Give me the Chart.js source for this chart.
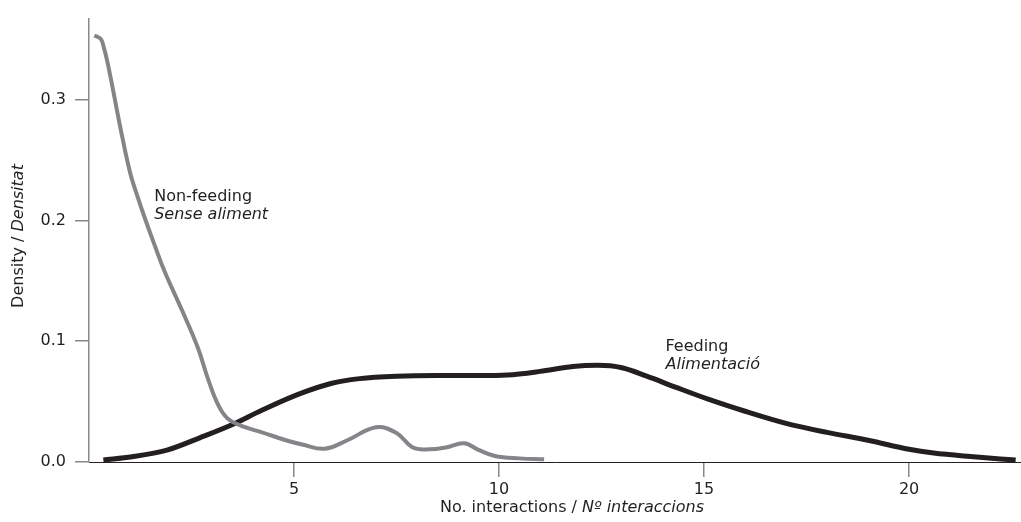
<!DOCTYPE html>
<html>
<head>
<meta charset="utf-8">
<script src="https://cdn.jsdelivr.net/npm/chart.js@4"></script>
<style>
  html, body { margin: 0; padding: 0; background: #fff; }
  #wrap { width: 1021px; height: 522px; }
</style>
</head>
<body>
<div id="wrap"><canvas id="densityChart" width="1021" height="522"></canvas></div>
<script>
// --- dados ---
const feedingX = [0.35, 1.05, 1.9, 2.7, 3.5, 4.2, 5.1, 5.9, 6.6, 7.5, 8.5, 9.5, 10.2, 11.0, 11.8, 12.4, 13.0, 13.6, 14.3, 15.1, 16.0, 17.0, 18.0, 19.0, 20.0, 20.6, 21.5, 22.6];
const feedingY = [0.0016, 0.0043, 0.0098, 0.020, 0.031, 0.0426, 0.056, 0.065, 0.069, 0.071, 0.0715, 0.0715, 0.072, 0.075, 0.079, 0.080, 0.078, 0.071, 0.062, 0.052, 0.042, 0.032, 0.0245, 0.018, 0.0105, 0.0074, 0.0045, 0.0016];

const nonFeedingX = [0.13, 0.29, 0.37, 0.45, 0.54, 0.62, 0.745, 0.83, 0.91, 1.03, 1.19, 1.35, 1.52, 1.84, 2.25, 2.65, 2.9, 3.14, 3.38, 3.79, 4.2, 4.8, 5.2, 5.75, 6.3, 7.0, 7.5, 7.9, 8.3, 8.7, 9.15, 9.5, 9.9, 10.5, 11.1];
const nonFeedingY = [0.353, 0.350, 0.342, 0.331, 0.316, 0.302, 0.280, 0.266, 0.253, 0.236, 0.219, 0.203, 0.187, 0.158, 0.127, 0.095, 0.069, 0.048, 0.036, 0.029, 0.0248, 0.018, 0.0145, 0.011, 0.018, 0.0287, 0.024, 0.012, 0.0105, 0.012, 0.0155, 0.010, 0.005, 0.003, 0.0022];

const xTicks = [5, 10, 15, 20];
const yTicks = [0, 0.1, 0.2, 0.3];

// rótulos das curvas (posição em unidades dos dados)
const curveLabels = [
    { x: 1.59, y: 0.2164, normal: 'Non-feeding', italic: 'Sense aliment' },
    { x: 14.06, y: 0.0918, normal: 'Feeding', italic: 'Alimentació' }
];

const FONT = "'DejaVu Sans', Verdana, sans-serif";
const TEXT = '#231f20';

function toPoints(xs, ys) {
    return xs.map((x, i) => ({ x: x, y: ys[i] }));
}

// escreve texto misto: parte normal + parte itálica
function mixedText(ctx, normal, italic, x, y, align) {
    ctx.font = '16px ' + FONT;
    const w1 = ctx.measureText(normal).width;
    ctx.font = 'italic 16px ' + FONT;
    const w2 = ctx.measureText(italic).width;
    let start = x;
    if (align === 'center') start = x - (w1 + w2) / 2;
    ctx.textAlign = 'left';
    ctx.font = '16px ' + FONT;
    ctx.fillText(normal, start, y);
    ctx.font = 'italic 16px ' + FONT;
    ctx.fillText(italic, start + w1, y);
}

const textPlugin = {
    id: 'textPlugin',
    afterDraw(chart) {
        const ctx = chart.ctx;
        const xs = chart.scales.x, ys = chart.scales.y;
        ctx.save();
        ctx.fillStyle = TEXT;
        ctx.textBaseline = 'middle';

        // título eixo x
        mixedText(ctx, 'No. interactions / ', 'Nº interaccions', 572, 508, 'center');

        // título eixo y (rodado)
        ctx.save();
        ctx.translate(19, 236);
        ctx.rotate(-Math.PI / 2);
        mixedText(ctx, 'Density / ', 'Densitat', 0, 0, 'center');
        ctx.restore();

        // rótulos das curvas
        ctx.textBaseline = 'alphabetic';
        curveLabels.forEach(l => {
            const px = xs.getPixelForValue(l.x);
            const py = ys.getPixelForValue(l.y);
            ctx.textAlign = 'left';
            ctx.font = '16px ' + FONT;
            ctx.fillText(l.normal, px, py);
            ctx.font = 'italic 16px ' + FONT;
            ctx.fillText(l.italic, px, py + 18);
        });
        ctx.restore();
    }
};

const ctx = document.getElementById('densityChart').getContext('2d');
new Chart(ctx, {
    type: 'line',
    data: {
        datasets: [
            {
                label: 'Non-feeding',
                data: toPoints(nonFeedingX, nonFeedingY),
                borderColor: '#848589',
                borderWidth: 4,
                pointRadius: 0,
                tension: 0.4,
                fill: false
            },
            {
                label: 'Feeding',
                data: toPoints(feedingX, feedingY),
                borderColor: '#231f20',
                borderWidth: 5,
                pointRadius: 0,
                cubicInterpolationMode: 'monotone',
                fill: false
            }
        ]
    },
    options: {
        responsive: false,
        animation: false,
        layout: { padding: { top: 14, right: 0, left: 0, bottom: 0 } },
        plugins: {
            legend: { display: false },
            tooltip: { enabled: false }
        },
        scales: {
            x: {
                type: 'linear',
                min: 0,
                max: 22.73,
                afterBuildTicks: s => { s.ticks = xTicks.map(v => ({ value: v })); },
                afterFit: s => { s.height = 60; },
                grid: {
                    display: true,
                    drawOnChartArea: false,
                    drawTicks: true,
                    tickLength: 15,
                    color: '#888888',
                    lineWidth: 1.5
                },
                border: { display: true, color: '#231f20', width: 1 },
                ticks: {
                    color: TEXT,
                    font: { family: FONT, size: 16 },
                    padding: 3,
                    maxRotation: 0,
                    callback: v => String(v)
                }
            },
            y: {
                type: 'linear',
                min: 0,
                max: 0.367,
                afterBuildTicks: s => { s.ticks = yTicks.map(v => ({ value: v })); },
                afterFit: s => { s.width = 89; },
                grid: {
                    display: true,
                    drawOnChartArea: false,
                    drawTicks: true,
                    tickLength: 14,
                    color: '#888888',
                    lineWidth: 1.5
                },
                border: { display: true, color: '#888888', width: 1.5 },
                ticks: {
                    color: TEXT,
                    font: { family: FONT, size: 16 },
                    padding: 9,
                    callback: v => v.toFixed(1)
                }
            }
        }
    },
    plugins: [textPlugin]
});
</script>
</body>
</html>
